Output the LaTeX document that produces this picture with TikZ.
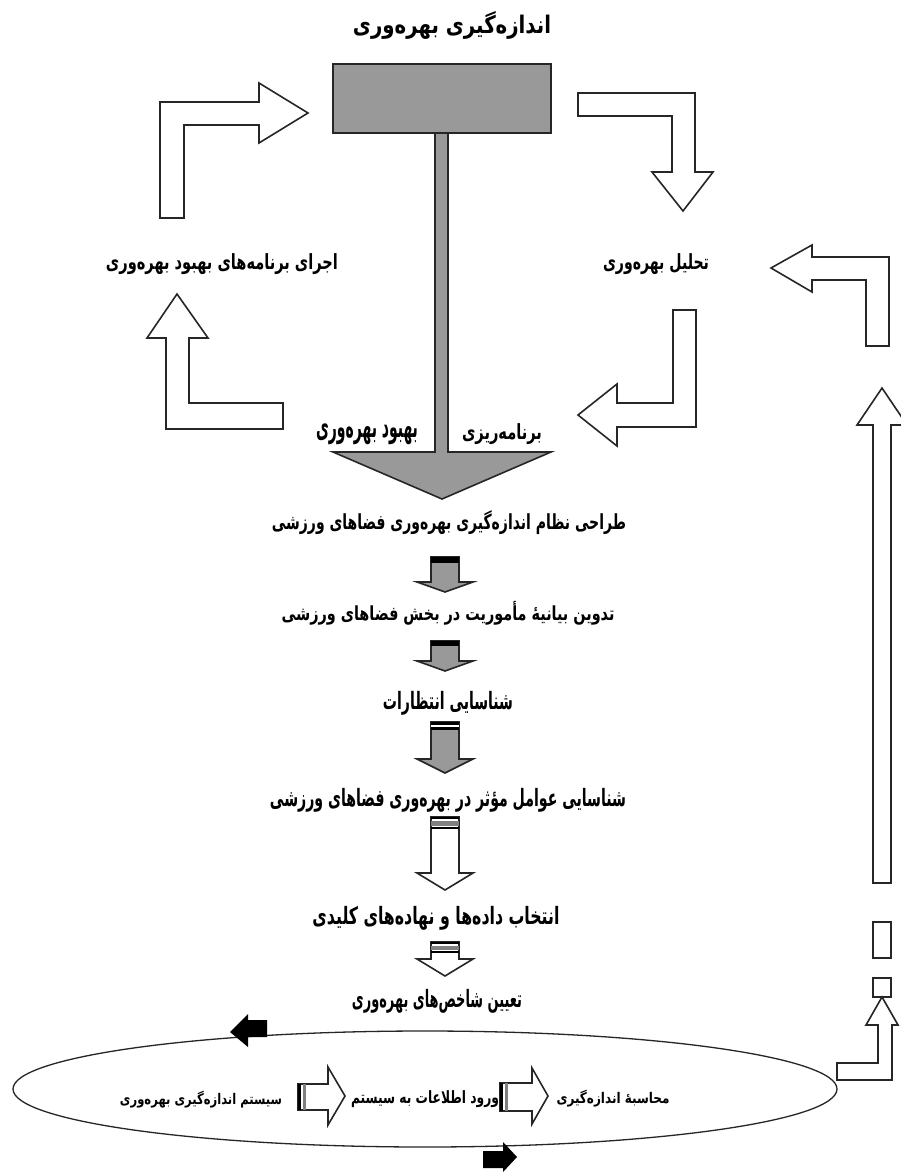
\documentclass[tikz,border=0pt]{standalone}
\usepackage{graphicx}
\usepackage{fontspec}
\TeXXeTstate=1
\newfontfamily\fa[Script=Arabic]{DejaVu Sans}
\newcommand\fatxt[3]{\resizebox*{#1pt}{#2pt}{\fa\bfseries #3}}
\tikzset{
 blk/.style={draw=black!85, line width=1.6pt, line join=miter},
 gfill/.style={blk, fill=gray!80},
 wfill/.style={blk, fill=white},
 lab/.style={inner sep=0pt, outer sep=0pt, anchor=center},
}
\begin{document}
\begin{tikzpicture}[x=1pt,y=-1pt]
\useasboundingbox (0,0) rectangle (901,1174);
\fill[white] (0,0) rectangle (901,1174);

% title
\node[lab] (title) at (452,25) {\fatxt{198}{28}{\beginR اندازه‌گیری بهره‌وری\endR}};

% T shape
\draw[gfill] (435,133) -- (435,452) -- (333,452) -- (442,499) -- (551,452) -- (448,452) -- (448,133);
\draw[gfill] (333,64) rectangle (551,133);
\node[lab] (lbl1) at (367,434) {\fatxt{102}{21}{\beginR بهبود بهره‌وری\endR}};
\node[lab] (lbl2) at (502,434) {\fatxt{80}{21}{\beginR برنامه‌ریزی\endR}};

% cycle arrows
\draw[wfill] (160,218) -- (160,102) -- (259,102) -- (259,83) -- (308,113) -- (259,143) -- (259,125) -- (184,125) -- (184,218) -- cycle;
\draw[wfill] (578,93) -- (695,93) -- (695,172) -- (713,172) -- (683,211) -- (652,172) -- (672,172) -- (672,116) -- (578,116) -- cycle;
\draw[wfill] (166,429) -- (166,338) -- (147,338) -- (177,294) -- (208,338) -- (189,338) -- (189,403) -- (283,403) -- (283,429) -- cycle;
\draw[wfill] (673,310) -- (696,310) -- (696,427) -- (617,427) -- (617,446) -- (578,415) -- (617,384) -- (617,403) -- (673,403) -- cycle;
\node[lab] (exec) at (222,264) {\fatxt{232}{21}{\beginR اجرای برنامه‌های بهبود بهره‌وری\endR}};
\node[lab] (anal) at (656,264) {\fatxt{106}{21}{\beginR تحلیل بهره‌وری\endR}};

% center column
\node[lab] (t1) at (449,523) {\fatxt{354}{24}{\beginR طراحی نظام اندازه‌گیری بهره‌وری فضاهای ورزشی\endR}};
\draw[gfill] (431,557) -- (459,557) -- (459,582) -- (473,582) -- (445,592) -- (417,582) -- (431,582) -- cycle;
\fill[black] (431,557) rectangle (459,563);
\node[lab] (t2) at (448,613) {\fatxt{333}{24}{\beginR تدوین بیانیهٔ مأموریت در بخش فضاهای ورزشی\endR}};
\draw[gfill] (431,641) -- (459,641) -- (459,661) -- (473,661) -- (445,671) -- (417,661) -- (431,661) -- cycle;
\fill[black] (431,641) rectangle (459,646);
\node[lab] (t3) at (448,703) {\fatxt{130}{24}{\beginR شناسایی انتظارات\endR}};
\draw[gfill] (431,722) -- (459,722) -- (459,759) -- (473,759) -- (445,773) -- (417,759) -- (431,759) -- cycle;
\fill[black] (431,722) rectangle (459,725);
\fill[white] (431,725) rectangle (459,727);
\fill[black] (431,727) rectangle (459,730);
\node[lab] (t4) at (448,800) {\fatxt{356}{24}{\beginR شناسایی عوامل مؤثر در بهره‌وری فضاهای ورزشی\endR}};
\draw[wfill] (431,817) -- (459,817) -- (459,873) -- (473,873) -- (445,890) -- (417,873) -- (431,873) -- cycle;
\fill[black] (431,817) rectangle (459,819);
\fill[gray] (431,821) rectangle (459,826);
\fill[black] (431,827) rectangle (459,828.5);
\node[lab] (t5) at (436,918) {\fatxt{247}{24}{\beginR انتخاب داده‌ها و نهاده‌های کلیدی\endR}};
\draw[wfill] (431,942) -- (459,942) -- (459,959) -- (473,959) -- (445,976) -- (417,959) -- (431,959) -- cycle;
\fill[black] (431,942) rectangle (459,944);
\fill[gray] (431,946) rectangle (459,950);
\fill[black] (431,951) rectangle (459,952.5);
\node[lab] (t6) at (437,1001) {\fatxt{170}{24}{\beginR تعیین شاخص‌های بهره‌وری\endR}};

% ellipse
\draw[draw=black!85, line width=1.3pt] (425,1089) ellipse [x radius=412pt, y radius=58pt];
\fill[black] (267,1020) -- (267,1037) -- (248,1037) -- (248,1047) -- (230,1032) -- (248,1014) -- (248,1020) -- cycle;
\fill[black] (483,1151) -- (503,1151) -- (503,1142) -- (517,1157) -- (503,1172) -- (503,1168) -- (483,1168) -- cycle;

\draw[wfill] (500,1083) -- (532,1083) -- (532,1068) -- (548,1096) -- (532,1124) -- (532,1111) -- (500,1111) -- cycle;
\fill[black] (500,1083) rectangle (503,1111);
\fill[gray] (505,1083) rectangle (508,1111);
\draw[wfill] (298,1084) -- (328,1084) -- (328,1067) -- (345,1096) -- (328,1125) -- (328,1110) -- (298,1110) -- cycle;
\fill[black] (298,1084) rectangle (301,1110);
\fill[gray] (303,1084) rectangle (306,1110);
\node[lab] (e1) at (613,1099) {\fatxt{113}{17}{\beginR محاسبهٔ  اندازه‌گیری\endR}};
\node[lab] (e2) at (425,1099) {\fatxt{148}{17}{\beginR ورود اطلاعات به  سیستم\endR}};
\node[lab] (e3) at (201,1100) {\fatxt{162}{17}{\beginR سیستم  اندازه‌گیری بهره‌وری\endR}};

% right column
\draw[wfill] (889,346) -- (889,257) -- (812,257) -- (812,245) -- (771,268) -- (812,292) -- (812,280) -- (866,280) -- (866,346) -- cycle;
\draw[wfill] (873,883) -- (873,425) -- (857,425) -- (882,388) -- (907,425) -- (891,425) -- (891,883) -- cycle;
\draw[wfill] (873,922) rectangle (891,958);
\draw[wfill] (873,978) rectangle (891,997);
\draw[wfill] (837,1080) -- (892,1080) -- (892,1025) -- (898,1025) -- (882,997) -- (866,1025) -- (878,1025) -- (878,1063) -- (837,1063) -- cycle;
\end{tikzpicture}
\end{document}
